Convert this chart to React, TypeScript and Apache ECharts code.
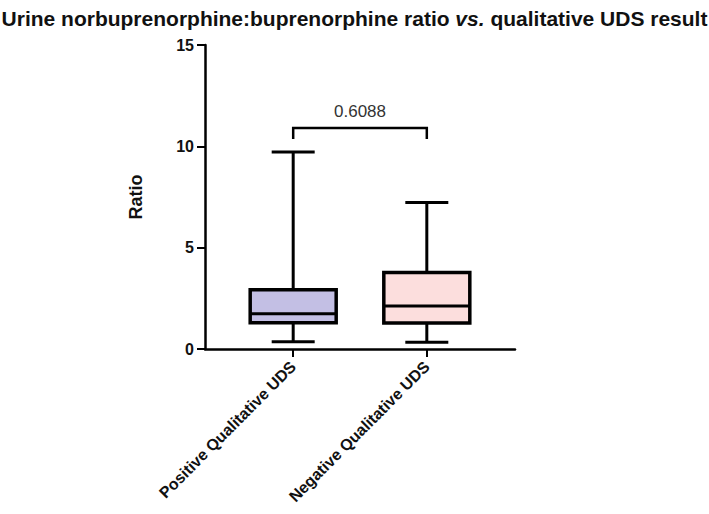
import React, { useEffect, useRef } from "react";
import * as echarts from "echarts";

const TITLE_PARTS = ["Urine norbuprenorphine:buprenorphine ratio ", "vs.", " qualitative UDS result"];
const CATEGORIES = ["Positive Qualitative UDS", "Negative Qualitative UDS"];
const CATEGORY_POS = [1, 2];
// [min, Q1, median, Q3, max]
const BOX_VALUES = [
  [0.36, 1.3, 1.74, 2.92, 9.72],
  [0.33, 1.28, 2.12, 3.78, 7.23],
];
const BOX_COLORS = ["#c3bfe4", "#fcdedd"];
const Y_TICKS = [0, 5, 10, 15];
const P_VALUE_LABEL = "0.6088";
const BRACKET_LEVEL = 10.9;

export default function App() {
  const ref = useRef<HTMLDivElement>(null);
  useEffect(() => {
    document.body.style.margin = "0";
    const chart = echarts.init(ref.current!, null, { renderer: "svg" });
    const BOX_W = 86;
    const CAP_W = 43;
    const font = "Liberation Sans, Arial, sans-serif";
    const boxData = BOX_VALUES.map((v, i) => [CATEGORY_POS[i], ...v]);
    const titleStyle = { fontFamily: font, fontSize: 21, fontWeight: "bold", color: "#111" };
    const option: any = {
      animation: false,
      backgroundColor: "#ffffff",
      title: {
        text: `{n|${TITLE_PARTS[0]}}{i|${TITLE_PARTS[1]}}{n|${TITLE_PARTS[2]}}`,
        left: "center",
        top: 3,
        textStyle: {
          ...titleStyle,
          rich: { n: { ...titleStyle }, i: { ...titleStyle, fontStyle: "italic" } },
        },
      },
      grid: { left: 205, right: 194, top: 45, bottom: 165 },
      xAxis: {
        type: "value",
        min: 0.34,
        max: 2.66,
        splitLine: { show: false },
        axisLine: { show: true, onZero: false, lineStyle: { color: "#000", width: 2.5 } },
        axisTick: { show: true, customValues: CATEGORY_POS, length: 8, lineStyle: { color: "#000", width: 2 } },
        axisLabel: {
          customValues: CATEGORY_POS,
          rotate: 45,
          margin: 15,
          fontFamily: font,
          fontSize: 16,
          fontWeight: "bold",
          color: "#111",
          formatter: (v: number) => CATEGORIES[CATEGORY_POS.indexOf(Math.round(v))] ?? "",
        },
      },
      yAxis: {
        type: "value",
        min: Y_TICKS[0],
        max: Y_TICKS[Y_TICKS.length - 1],
        interval: 5,
        name: "Ratio",
        nameLocation: "middle",
        nameGap: 60,
        nameTextStyle: { fontFamily: font, fontSize: 18, fontWeight: "bold", color: "#111" },
        splitLine: { show: false },
        axisLine: { show: true, lineStyle: { color: "#000", width: 2.5 } },
        axisTick: { show: true, length: 8, lineStyle: { color: "#000", width: 2 } },
        axisLabel: { margin: 11, fontFamily: font, fontSize: 16, fontWeight: "bold", color: "#111" },
      },
      series: [
        {
          type: "custom",
          data: boxData,
          clip: false,
          renderItem: (params: any, api: any) => {
            const x = api.value(0);
            const pMin = api.coord([x, api.value(1)]);
            const pQ1 = api.coord([x, api.value(2)]);
            const pMed = api.coord([x, api.value(3)]);
            const pQ3 = api.coord([x, api.value(4)]);
            const pMax = api.coord([x, api.value(5)]);
            const c = pMin[0];
            const lw = { stroke: "#000", lineWidth: 3 };
            return {
              type: "group",
              children: [
                { type: "line", shape: { x1: c, y1: pMin[1], x2: c, y2: pQ1[1] }, style: lw },
                { type: "line", shape: { x1: c, y1: pQ3[1], x2: c, y2: pMax[1] }, style: lw },
                { type: "line", shape: { x1: c - CAP_W / 2, y1: pMin[1], x2: c + CAP_W / 2, y2: pMin[1] }, style: lw },
                { type: "line", shape: { x1: c - CAP_W / 2, y1: pMax[1], x2: c + CAP_W / 2, y2: pMax[1] }, style: lw },
                {
                  type: "rect",
                  shape: { x: c - BOX_W / 2, y: pQ3[1], width: BOX_W, height: pQ1[1] - pQ3[1] },
                  style: { fill: BOX_COLORS[params.dataIndex], stroke: "#000", lineWidth: 3.5 },
                },
                { type: "line", shape: { x1: c - BOX_W / 2, y1: pMed[1], x2: c + BOX_W / 2, y2: pMed[1] }, style: lw },
              ],
            };
          },
        },
        {
          type: "custom",
          data: [[CATEGORY_POS[0], CATEGORY_POS[1], BRACKET_LEVEL]],
          clip: false,
          renderItem: (params: any, api: any) => {
            const a = api.coord([api.value(0), api.value(2)]);
            const b = api.coord([api.value(1), api.value(2)]);
            const drop = 11;
            return {
              type: "group",
              children: [
                {
                  type: "polyline",
                  shape: { points: [[a[0], a[1] + drop], [a[0], a[1]], [b[0], b[1]], [b[0], b[1] + drop]] },
                  style: { stroke: "#000", lineWidth: 2.5, fill: "none" },
                },
                {
                  type: "text",
                  x: (a[0] + b[0]) / 2,
                  y: a[1] - 8,
                  style: {
                    text: P_VALUE_LABEL,
                    fontFamily: font,
                    fontSize: 17,
                    fill: "#333",
                    align: "center",
                    verticalAlign: "bottom",
                  },
                },
              ],
            };
          },
        },
      ],
    };
    chart.setOption(option);
    return () => chart.dispose();
  }, []);
  return <div ref={ref} style={{ position: "absolute", left: 0, top: 0, width: 709, height: 514 }} />;
}
